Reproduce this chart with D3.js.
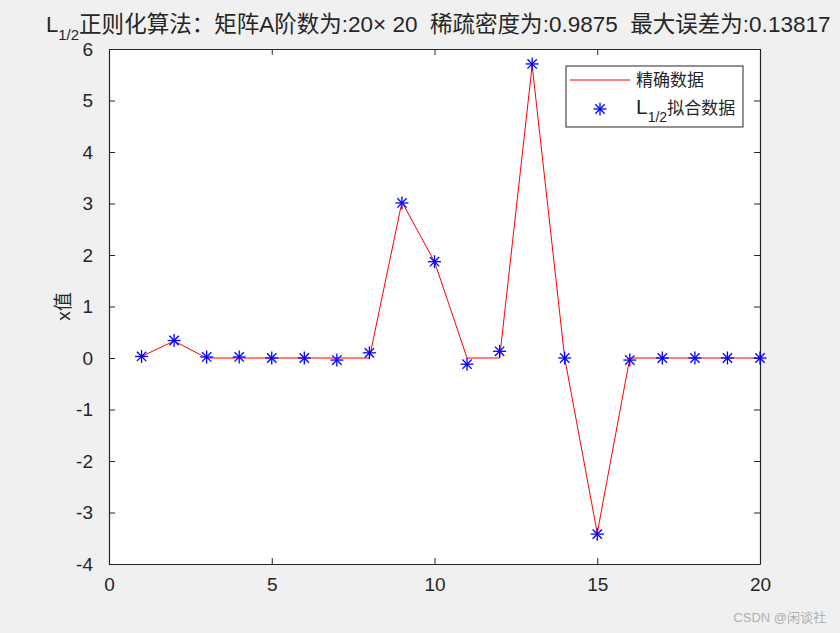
<!DOCTYPE html>
<html>
<head>
<meta charset="utf-8">
<script src="https://cdn.jsdelivr.net/npm/d3@7"></script>
<style>
  html, body { margin: 0; padding: 0; background: #f0f0f0; }
  svg { display: block; }
  text { font-family: "Liberation Sans", Arial, "Noto Sans CJK SC", sans-serif; fill: #262626; white-space: pre; }
</style>
</head>
<body>
<div id="chart"></div>
<script>
// values
const xValues = d3.range(1, 21);
const exactValues = [0.03, 0.33, 0, 0, 0, 0, 0, 0, 3.03, 1.87, 0, 0, 5.68, 0, -3.4, 0, 0, 0, 0, 0];
const fittedValues = [0.03, 0.34, 0.02, 0.02, 0, 0, -0.04, 0.1, 3.01, 1.87, -0.12, 0.13, 5.71, 0, -3.42, -0.04, 0, 0, 0, 0];
const xTicks = [0, 5, 10, 15, 20];
const yTicks = [-4, -3, -2, -1, 0, 1, 2, 3, 4, 5, 6];
const legendLabels = ['精确数据', '拟合数据'];
const titleRest = '正则化算法：矩阵A阶数为:20× 20  稀疏密度为:0.9875  最大误差为:0.13817';

(function () {
  const W = 840, H = 633;
  const box = { left: 109, right: 760, top: 49, bottom: 564 };
  const tickLen = 6;
  const axisColor = '#262626';

  const svg = d3.select('#chart').append('svg')
    .attr('width', W).attr('height', H);

  svg.append('rect').attr('width', W).attr('height', H).attr('fill', '#f0f0f0');

  const x = d3.scaleLinear().domain([0, 20]).range([box.left, box.right]);
  const y = d3.scaleLinear().domain([-4, 6]).range([box.bottom, box.top]);

  // plot area
  svg.append('rect')
    .attr('x', box.left).attr('y', box.top)
    .attr('width', box.right - box.left).attr('height', box.bottom - box.top)
    .attr('fill', '#fff');

  // axes (box on, ticks inward)
  const fmt = d => String(d);
  const gx = svg.append('g').attr('transform', `translate(0,${box.bottom})`)
    .call(d3.axisBottom(x).tickValues(xTicks).tickFormat(fmt).tickSizeInner(-tickLen).tickSizeOuter(0).tickPadding(14));
  const gxTop = svg.append('g').attr('transform', `translate(0,${box.top})`)
    .call(d3.axisTop(x).tickValues(xTicks).tickSizeInner(-tickLen).tickSizeOuter(0).tickFormat(''));
  const gy = svg.append('g').attr('transform', `translate(${box.left},0)`)
    .call(d3.axisLeft(y).tickValues(yTicks).tickFormat(fmt).tickSizeInner(-tickLen).tickSizeOuter(0).tickPadding(16));
  const gyRight = svg.append('g').attr('transform', `translate(${box.right},0)`)
    .call(d3.axisRight(y).tickValues(yTicks).tickSizeInner(-tickLen).tickSizeOuter(0).tickFormat(''));

  [gx, gxTop, gy, gyRight].forEach(g => {
    g.select('.domain').attr('stroke', axisColor).attr('stroke-width', 1.2);
    g.selectAll('.tick line').attr('stroke', axisColor).attr('stroke-width', 1);
    g.selectAll('.tick text').attr('fill', axisColor).attr('font-size', '19px')
      .attr('font-family', '"Liberation Sans", Arial, sans-serif');
  });
  gx.selectAll('.tick text').attr('dy', '0.71em');

  // y label
  svg.append('text')
    .attr('transform', `translate(70,${(box.top + box.bottom) / 2}) rotate(-90)`)
    .attr('text-anchor', 'middle')
    .attr('font-size', '19px')
    .text('x值');

  // exact data line
  const line = d3.line().x((d, i) => x(xValues[i])).y(d => y(d));
  svg.append('path')
    .datum(exactValues)
    .attr('d', line)
    .attr('fill', 'none')
    .attr('stroke', '#ff0000')
    .attr('stroke-width', 1);

  // star marker like matlab '*'
  function star(g, r) {
    g.append('line').attr('x1', -r).attr('x2', r).attr('y1', 0).attr('y2', 0);
    g.append('line').attr('x1', 0).attr('x2', 0).attr('y1', -r).attr('y2', r);
    const d = r * 0.72;
    g.append('line').attr('x1', -d).attr('x2', d).attr('y1', -d).attr('y2', d);
    g.append('line').attr('x1', -d).attr('x2', d).attr('y1', d).attr('y2', -d);
    g.attr('stroke', '#0000ff').attr('stroke-width', 1.3);
  }

  const marks = svg.append('g');
  fittedValues.forEach((v, i) => {
    const g = marks.append('g').attr('transform', `translate(${x(xValues[i])},${y(v)})`);
    star(g, 6.5);
  });

  // title: latin in Liberation Sans, CJK falls back to Noto
  const title = svg.append('text')
    .attr('x', 46).attr('y', 32)
    .attr('font-size', '22px');
  title.append('tspan').text('L');
  title.append('tspan').attr('font-size', '15px').attr('dy', 8).text('1/2');
  const rest = title.append('tspan').attr('dy', -8)
    .attr('font-size', '19px').text(titleRest);
  // scale the rest so the title ends where the reference does
  const tb = title.node().getBBox();
  const restW = rest.node().getComputedTextLength();
  const wantRest = restW + (831 - (tb.x + tb.width));
  rest.attr('font-size', (19 * wantRest / restW).toFixed(2) + 'px');

  // legend
  const lg = svg.append('g').attr('transform', 'translate(566,66)');
  lg.append('rect').attr('width', 177).attr('height', 61)
    .attr('fill', '#fff').attr('stroke', axisColor).attr('stroke-width', 1);
  lg.append('line').attr('x1', 4).attr('x2', 64).attr('y1', 14).attr('y2', 14)
    .attr('stroke', '#ff0000').attr('stroke-width', 1);
  lg.append('text').attr('x', 70).attr('y', 20)
    .attr('font-family', '"Noto Sans CJK SC", sans-serif').attr('font-size', '17px')
    .text(legendLabels[0]);
  star(lg.append('g').attr('transform', 'translate(34,43)'), 6.5);
  const t2 = lg.append('text').attr('x', 70).attr('y', 48).attr('font-size', '21px');
  t2.append('tspan').text('L');
  t2.append('tspan').attr('font-size', '14px').attr('dy', 8).text('1/2');
  t2.append('tspan').attr('dy', -8).attr('font-family', '"Noto Sans CJK SC", sans-serif')
    .attr('font-size', '17px').text(legendLabels[1]);

  // watermark
  svg.append('text')
    .attr('x', 826).attr('y', 622)
    .attr('text-anchor', 'end')
    .attr('font-family', '"Noto Sans CJK SC", sans-serif')
    .attr('font-size', '13px')
    .style('fill', '#b0b0b0')
    .text('CSDN @闲谈社');
})();
</script>
</body>
</html>
